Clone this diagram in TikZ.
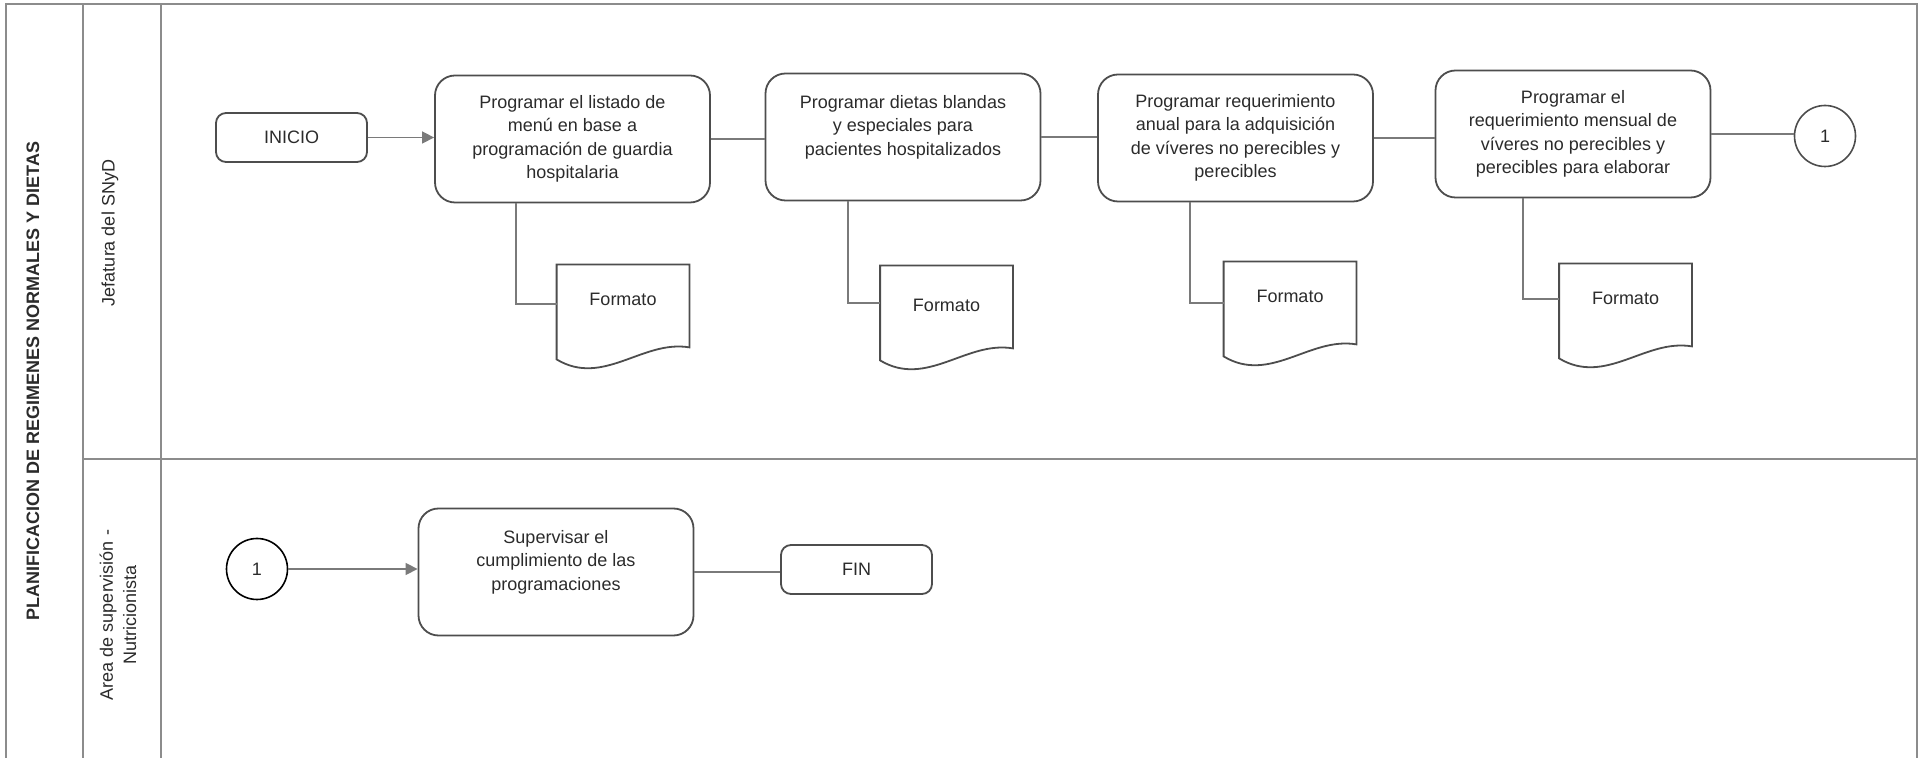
\documentclass[tikz,border=0pt]{standalone}
\usepackage{fontspec}
\setmainfont{Liberation Sans}
\usetikzlibrary{arrows.meta,calc}
\definecolor{boxgray}{HTML}{4D4D4D}
\definecolor{conngray}{HTML}{7A7A7A}
\definecolor{lanegray}{HTML}{8C8C8C}
\definecolor{textgray}{HTML}{2B2B2B}
\tikzset{
  every node/.style={font=\fontsize{9}{11.65}\selectfont, text=textgray},
  lane/.style={draw=lanegray, line width=0.6pt},
  lanetitle/.style={rotate=90, font=\fontsize{9}{11.65}\selectfont\bfseries},
  lanelabel/.style={rotate=90, align=center},
  task/.style={draw=boxgray, line width=0.9pt, rounded corners=10pt,
    minimum width=137.5pt, minimum height=63.5pt, align=center},
  terminal/.style={draw=boxgray, line width=0.9pt, rounded corners=5pt,
    minimum width=75.5pt, minimum height=24.5pt},
  connector/.style={circle, draw=boxgray, line width=0.8pt, minimum size=30.5pt, inner sep=0pt},
  docbox/.style={minimum width=66pt, minimum height=51pt, text depth=17pt},
  docline/.style={draw=boxgray, line width=0.9pt},
  conn/.style={draw=conngray, line width=0.75pt},
  arrow/.style={-{Triangle[length=6pt,width=6pt]}, conngray}
}
\begin{document}
\begin{tikzpicture}[x=0.5pt,y=-0.5pt]
  \useasboundingbox (0,0) rectangle (1924,758);
  % lanes
  \draw[lane] (6,758) -- (6,4) -- (1917,4) -- (1917,758);
  \draw[lane] (83,4) -- (83,758);
  \draw[lane] (161,4) -- (161,758);
  \draw[lane] (83,459) -- (1917,459);
  \node[lanetitle] (titulo) at (33,381) {PLANIFICACION DE REGIMENES NORMALES Y DIETAS};
  \node[lanelabel] (jefatura) at (110,233) {Jefatura del SNyD};
  \node[lanelabel] (area) at (118,615) {Area de supervisión -\\Nutricionista};
  % jefatura
  \draw
    (291.5,137.5) node[terminal] (inicio) {INICIO}
    (572.5,139) node[task] (t1) {Programar el listado de\\menú en base a\\programación de guardia\\hospitalaria}
    (903,137) node[task] (t2) {Programar dietas blandas\\y especiales para\\pacientes hospitalizados\\~}
    (1235.5,138) node[task] (t3) {Programar requerimiento\\anual para la adquisición\\de víveres no perecibles y\\perecibles}
    (1573,134) node[task] (t4) {Programar el\\requerimiento mensual de\\víveres no perecibles y\\perecibles para elaborar}
    (1825,136) node[connector] (c1) {1}
    (623,316) node[docbox] (f1) {Formato}
    (946.5,317) node[docbox, text depth=12pt] (f2) {Formato}
    (1290,313) node[docbox] (f3) {Formato}
    (1625.5,315) node[docbox] (f4) {Formato};
  % area de supervision
  \draw
    (257,569) node[connector, draw=black] (c2) {1}
    (556,572) node[task] (t5) {Supervisar el\\cumplimiento de las\\programaciones\\~}
    (856.5,569.5) node[terminal] (fin) {FIN};
  % documentos
  \foreach \f in {f1,f2,f3,f4}
    \draw[docline] (\f.north west) -- (\f.north east) -- ($(\f.south east)+(0,-20)$)
      .. controls ($(\f.south west)!0.65!(\f.south east)+(0,-28)$)
      and ($(\f.south west)!0.35!(\f.south east)+(0,20)$) .. ($(\f.south west)+(0,-8)$) -- cycle;
  \begin{scope}[conn]
    \draw[arrow] (inicio.east) -- (inicio.east -| t1.west);
    \draw (t1.east) -- (t1.east -| t2.west);
    \draw (t2.east) -- (t2.east -| t3.west);
    \draw (t3.east) -- (t3.east -| t4.west);
    \draw (t4.east) -- (t4.east -| c1.west);
    \draw ([xshift=-28.25pt]t1.south) |- ([yshift=6pt]f1.west);
    \draw ([xshift=-27.5pt]t2.south) |- ([yshift=7pt]f2.west);
    \draw ([xshift=-22.75pt]t3.south) |- ([yshift=5pt]f3.west);
    \draw ([xshift=-25pt]t4.south) |- ([yshift=8pt]f4.west);
    \draw[arrow] (c2.east) -- (c2.east -| t5.west);
    \draw (t5.east) -- (t5.east -| fin.west);
  \end{scope}
\end{tikzpicture}
\end{document}
